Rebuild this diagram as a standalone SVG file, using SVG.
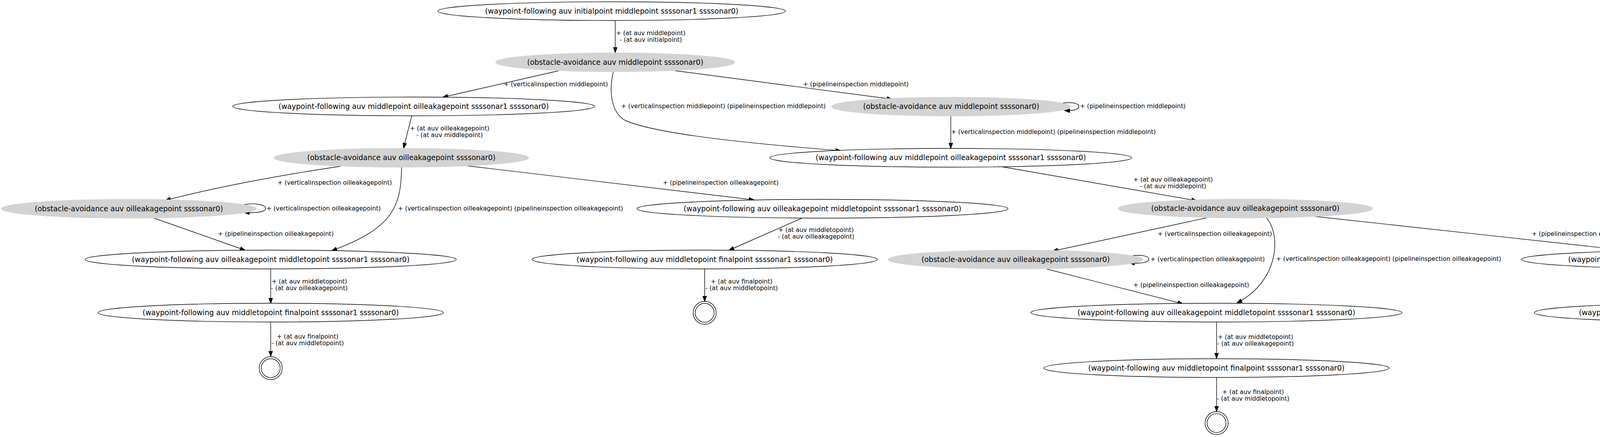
<svg xmlns="http://www.w3.org/2000/svg" width="4851" height="1119" viewBox="0 0 4851 1119">
<style>
.bg{fill:#ffffff}
.wp{fill:#ffffff;stroke:#000000;stroke-width:1.4}
.ob{fill:#d3d3d3;stroke:#d3d3d3;stroke-width:1.4}
.fin{fill:none;stroke:#000000;stroke-width:1.4}
.nt{font-family:"DejaVu Sans",sans-serif;font-size:18.6px;text-anchor:middle;fill:#000000}
.lt{font-family:"DejaVu Sans",sans-serif;font-size:15.6px;text-anchor:middle;fill:#000000}
.e{fill:none;stroke:#000000;stroke-width:1.4;marker-end:url(#ah)}
</style>
<defs>
<marker id="ah" viewBox="0 0 16 12" refX="14.3" refY="6" markerWidth="16" markerHeight="12" markerUnits="userSpaceOnUse" orient="auto">
<path d="M1,1.33 L14.3,6 L1,10.67 Z" fill="#000000" stroke="#000000" stroke-width="1.3"/>
</marker>
</defs>
<rect class="bg" x="0" y="0" width="4851" height="1119"/>

<g id="edges">
<path class="e" d="M1575,52 L1575,135"/>
<path class="e" d="M1431,181 L1133,249"/>
<path class="e" d="M1570,184 C1558,235 1565,288 1600,308 C1680,345 1950,370 2153,386"/>
<path class="e" d="M1728,181 L2284,254"/>
<path class="e" d="M2720,264 C2750,260 2762,266 2762,273 C2762,280 2748,284 2725,283"/>
<path class="e" d="M2434,297 L2434,380"/>
<path class="e" d="M1054,297 L1033,380"/>
<path class="e" d="M2565,427 L3064,514"/>
<path class="e" d="M877,425 Q612,464.5 423,513"/>
<path class="e" d="M624,524 C660,518 680,526 680,534 C680,542 660,546 625,544"/>
<path class="e" d="M393,558 L628,641"/>
<path class="e" d="M1028,428 C1027,530 1005,585 849,642"/>
<path class="e" d="M1191,424 L1931,512"/>
<path class="e" d="M693,689 L693,777"/>
<path class="e" d="M693,825 L693,913"/>
<path class="e" d="M2052,559 L1865.5,641"/>
<path class="e" d="M1804,689 L1804,772"/>
<path class="e" d="M3088,558 L2694.5,643"/>
<path class="e" d="M2890,656 C2925,650 2941,657 2941,664 C2941,672 2920,676 2891,673"/>
<path class="e" d="M2680,689 L3028.5,778"/>
<path class="e" d="M3242,558 C3280,600 3275,720 3166,776"/>
<path class="e" d="M3364,554 L4180,643"/>
<path class="e" d="M4370,689 L4370,778"/>
<path class="e" d="M4370,826 L4370,913"/>
<path class="e" d="M3114.5,825 L3114.5,918"/>
<path class="e" d="M3114.5,967 L3114.5,1054"/>

<text class="lt" x="1666" y="90">+ (at auv middlepoint)<tspan x="1666" dy="17">- (at auv initialpoint)</tspan></text>
<text class="lt" x="1423" y="221">+ (verticalinspection middlepoint)</text>
<text class="lt" x="1852" y="277">+ (verticalinspection middlepoint) (pipelineinspection middlepoint)</text>
<text class="lt" x="2191" y="221">+ (pipelineinspection middlepoint)</text>
<text class="lt" x="2900" y="277">+ (pipelineinspection middlepoint)</text>
<text class="lt" x="2697" y="343">+ (verticalinspection middlepoint) (pipelineinspection middlepoint)</text>
<text class="lt" x="1151" y="334">+ (at auv oilleakagepoint)<tspan x="1151" dy="17">- (at auv middlepoint)</tspan></text>
<text class="lt" x="3003" y="465">+ (at auv oilleakagepoint)<tspan x="3003" dy="17">- (at auv middlepoint)</tspan></text>
<text class="lt" x="857" y="473">+ (verticalinspection oilleakagepoint)</text>
<text class="lt" x="828.5" y="539">+ (verticalinspection oilleakagepoint)</text>
<text class="lt" x="706" y="604">+ (pipelineinspection oilleakagepoint)</text>
<text class="lt" x="1307" y="539">+ (verticalinspection oilleakagepoint) (pipelineinspection oilleakagepoint)</text>
<text class="lt" x="1845" y="473">+ (pipelineinspection oilleakagepoint)</text>
<text class="lt" x="792" y="726">+ (at auv middletopoint)<tspan x="792" dy="17">- (at auv oilleakagepoint)</tspan></text>
<text class="lt" x="787.5" y="867">+ (at auv finalpoint)<tspan x="787.5" dy="17">- (at auv middletopoint)</tspan></text>
<text class="lt" x="2089" y="594">+ (at auv middletopoint)<tspan x="2089" dy="17">- (at auv oilleakagepoint)</tspan></text>
<text class="lt" x="1898.5" y="726">+ (at auv finalpoint)<tspan x="1898.5" dy="17">- (at auv middletopoint)</tspan></text>
<text class="lt" x="3110" y="604">+ (verticalinspection oilleakagepoint)</text>
<text class="lt" x="3091.5" y="669">+ (verticalinspection oilleakagepoint)</text>
<text class="lt" x="3049.6" y="735">+ (pipelineinspection oilleakagepoint)</text>
<text class="lt" x="3555" y="668">+ (verticalinspection oilleakagepoint) (pipelineinspection oilleakagepoint)</text>
<text class="lt" x="4069.6" y="604">+ (pipelineinspection oilleakagepoint)</text>
<text class="lt" x="4470" y="726">+ (at auv middletopoint)<tspan x="4470" dy="17">- (at auv oilleakagepoint)</tspan></text>
<text class="lt" x="4464" y="867">+ (at auv finalpoint)<tspan x="4464" dy="17">- (at auv middletopoint)</tspan></text>
<text class="lt" x="3214" y="868">+ (at auv middletopoint)<tspan x="3214" dy="17">- (at auv oilleakagepoint)</tspan></text>
<text class="lt" x="3208" y="1009">+ (at auv finalpoint)<tspan x="3208" dy="17">- (at auv middletopoint)</tspan></text>
</g>

<g id="n0"><ellipse class="wp" cx="1566" cy="28.5" rx="445" ry="24"/><text class="nt" x="1566" y="34.5">(waypoint-following auv initialpoint middlepoint ssssonar1 ssssonar0)</text></g>
<g id="n1"><ellipse class="ob" cx="1575" cy="159.5" rx="306" ry="24"/><text class="nt" x="1575" y="165.5">(obstacle-avoidance auv middlepoint ssssonar0)</text></g>
<g id="n2"><ellipse class="wp" cx="1059" cy="272.5" rx="463" ry="24"/><text class="nt" x="1059" y="278.5">(waypoint-following auv middlepoint oilleakagepoint ssssonar1 ssssonar0)</text></g>
<g id="n4"><ellipse class="ob" cx="2435" cy="273" rx="306" ry="24"/><text class="nt" x="2435" y="279">(obstacle-avoidance auv middlepoint ssssonar0)</text></g>
<g id="n3"><ellipse class="wp" cx="2434" cy="404" rx="463" ry="24"/><text class="nt" x="2434" y="410">(waypoint-following auv middlepoint oilleakagepoint ssssonar1 ssssonar0)</text></g>
<g id="n5"><ellipse class="ob" cx="1027.5" cy="404" rx="326" ry="24"/><text class="nt" x="1027.5" y="410">(obstacle-avoidance auv oilleakagepoint ssssonar0)</text></g>
<g id="n6"><ellipse class="ob" cx="330" cy="534.5" rx="326" ry="24"/><text class="nt" x="330" y="540.5">(obstacle-avoidance auv oilleakagepoint ssssonar0)</text></g>
<g id="n9"><ellipse class="wp" cx="2105.5" cy="534.5" rx="475" ry="24"/><text class="nt" x="2105.5" y="540.5">(waypoint-following auv oilleakagepoint middletopoint ssssonar1 ssssonar0)</text></g>
<g id="n11"><ellipse class="ob" cx="3188" cy="534" rx="326" ry="24"/><text class="nt" x="3188" y="540">(obstacle-avoidance auv oilleakagepoint ssssonar0)</text></g>
<g id="n7"><ellipse class="wp" cx="693" cy="664.5" rx="475" ry="24"/><text class="nt" x="693" y="670.5">(waypoint-following auv oilleakagepoint middletopoint ssssonar1 ssssonar0)</text></g>
<g id="n10"><ellipse class="wp" cx="1804" cy="664.5" rx="442" ry="24"/><text class="nt" x="1804" y="670.5">(waypoint-following auv middletopoint finalpoint ssssonar1 ssssonar0)</text></g>
<g id="n12"><ellipse class="ob" cx="2600" cy="664.5" rx="326" ry="24"/><text class="nt" x="2600" y="670.5">(obstacle-avoidance auv oilleakagepoint ssssonar0)</text></g>
<g id="n13"><ellipse class="wp" cx="4370" cy="664.5" rx="475" ry="24"/><text class="nt" x="4370" y="670.5">(waypoint-following auv oilleakagepoint middletopoint ssssonar1 ssssonar0)</text></g>
<g id="n8"><ellipse class="wp" cx="693" cy="800.5" rx="442" ry="24"/><text class="nt" x="693" y="806.5">(waypoint-following auv middletopoint finalpoint ssssonar1 ssssonar0)</text></g>
<g id="n14"><ellipse class="wp" cx="3114" cy="800.5" rx="475" ry="24"/><text class="nt" x="3114" y="806.5">(waypoint-following auv oilleakagepoint middletopoint ssssonar1 ssssonar0)</text></g>
<g id="n15"><ellipse class="wp" cx="4370" cy="800.5" rx="442" ry="24"/><text class="nt" x="4370" y="806.5">(waypoint-following auv middletopoint finalpoint ssssonar1 ssssonar0)</text></g>
<g id="n16"><ellipse class="wp" cx="3114" cy="942.5" rx="442" ry="24"/><text class="nt" x="3114" y="948.5">(waypoint-following auv middletopoint finalpoint ssssonar1 ssssonar0)</text></g>
<g id="f1"><circle class="fin" cx="693" cy="942.7" r="29.5"/><circle class="fin" cx="693" cy="942.7" r="24.2"/></g>
<g id="f2"><circle class="fin" cx="1804" cy="801" r="29.5"/><circle class="fin" cx="1804" cy="801" r="24.2"/></g>
<g id="f3"><circle class="fin" cx="4370" cy="942.8" r="29.5"/><circle class="fin" cx="4370" cy="942.8" r="24.2"/></g>
<g id="f4"><circle class="fin" cx="3114.5" cy="1083.3" r="29.5"/><circle class="fin" cx="3114.5" cy="1083.3" r="24.2"/></g>
</svg>
